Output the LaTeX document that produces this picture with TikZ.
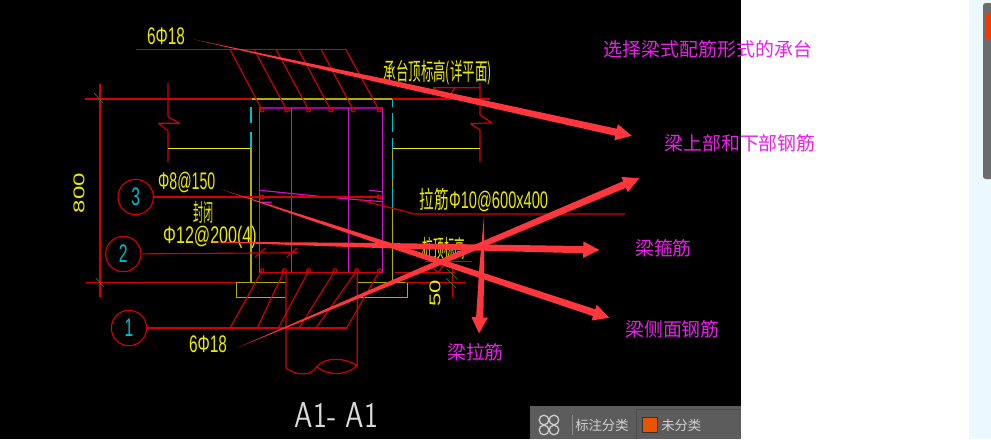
\documentclass[tikz,border=0pt]{standalone}
\usepackage{fontspec}
\setmainfont{Liberation Sans}
\newfontfamily\cjk{Noto Sans CJK SC}
\usetikzlibrary{calc}
\definecolor{hong}{RGB}{215,0,0}
\definecolor{huang}{RGB}{235,235,0}
\definecolor{ganlan}{RGB}{175,175,0}
\definecolor{zi}{RGB}{205,20,205}
\definecolor{anzi}{RGB}{160,0,170}
\definecolor{qing}{RGB}{0,190,200}
\definecolor{lv}{RGB}{0,170,40}
\definecolor{jiantouhong}{RGB}{255,55,60}
\definecolor{biaoqian}{RGB}{235,30,235}
\definecolor{gongju}{RGB}{92,92,92}
\definecolor{cheng}{RGB}{232,84,0}
\tikzset{
  gang/.style={hong,line width=.85pt},
  tong/.style={zi,line width=.85pt},
  xian/.style={ganlan,line width=.85pt},
  cad/.style={huang,inner sep=0pt,font=\fontsize{18}{18}\selectfont},
  biao/.style={biaoqian,inner sep=0pt,font=\cjk\fontsize{14.2}{14.2}\selectfont},
  hao/.style={draw=hong,circle,line width=.85pt,minimum size=26.5pt,inner sep=0pt,text=qing,font=\fontsize{19}{19}\selectfont},
  gongjuzi/.style={white!82!black,inner sep=0pt,font=\cjk\fontsize{10}{10}\selectfont}
}
% tail, tip
\newcommand{\jiantou}[2]{
  \coordinate (jb) at ($(#2)!12pt!(#1)$);
  \coordinate (jm) at ($(#1)!.45!(#2)$);
  \fill[jiantouhong] (#1) -- ($(jm)!1.9pt!90:(#2)$) -- ($(jb)!2.7pt!90:(#2)$) -- ($(jb)!6.2pt!90:(#2)$) -- (#2)
    -- ($(jb)!6.2pt!-90:(#2)$) -- ($(jb)!2.7pt!-90:(#2)$) -- ($(jm)!1.9pt!-90:(#2)$) -- cycle;
}
\begin{document}
\begin{tikzpicture}[x=.75pt,y=-.75pt,line join=round]
  \useasboundingbox (0,0) rectangle (991,439);
  \fill[white] (0,0) rectangle (991,439);
  \fill[black] (0,0) rectangle (741,439);
  \fill[blue!35!cyan!8!white] (969,0) rectangle (991,439);
  \fill[gray!85!black,rounded corners=2pt] (983,3) rectangle (995,179);
  \fill[cheng!70!red] (986,13) rectangle (991,39);
  % toolbar
  \fill[gongju] (530,406) rectangle (741,439);
  \draw[black!70,line width=.75pt] (636,439) -- (636,409) -- (741,409);
  \draw[white!30!gongju,line width=.75pt] (572,415) -- (572,435);
  \foreach \u/\v in {544/420,554/420,544/430,554/430}
    \draw[white!80!black,line width=1pt] (\u,\v) circle (3.6pt);
  \node[gongjuzi,anchor=west] (fenlei) at (575,425) {标注分类};
  \node[fill=cheng,draw=black!80,line width=.5pt,minimum size=11pt,inner sep=0pt] (chengkuai) at (649.5,425) {};
  \node[gongjuzi,anchor=west] (weifenlei) at (661,425) {未分类};
  % dimension lines
  \draw[gang] (85,99) -- (252,99) (392,99) -- (490,99);
  \draw[gang] (86,282.7) -- (237,282.7);
  \draw[gang] (100,84) -- (100,297);
  \draw[lv] (94,93) -- (103,103) (95.7,278) -- (104,287);
  % break lines
  \draw[gang] (168,83) -- (168,116.7) -- (179.5,123.3) -- (158.5,123.3) -- (168,130.7) -- (168,162);
  \draw[gang] (480,83) -- (480,115) -- (491.7,122.7) -- (470.7,123.7) -- (480,130) -- (480,162);
  % concrete outline
  \draw[xian] (252,99) -- (392,99);
  \draw[huang,line width=.85pt] (168,148.3) -- (251,148.3) (480,148.3) -- (392.7,148.3);
  \draw[xian] (251,148.3) -- (251,282.7) -- (236.7,282.7) -- (236.7,297.3) -- (286,297.3);
  \draw[xian] (392.7,148.3) -- (392.7,282.7) -- (407.3,282.7) -- (407.3,297.3) -- (357.3,297.3);
  \draw[xian] (251,282.7) -- (286,282.7) (392.7,282.7) -- (357.3,282.7);
  \draw[qing,line width=.85pt] (251,106.7) -- (251,123) (251,131.7) -- (251,148);
  \draw[qing,line width=.85pt] (392.7,99) -- (392.7,107) (392.7,113) -- (392.7,131.7) (392.7,138) -- (392.7,150)
    (392.7,160) -- (392.7,180) (392.7,187) -- (392.7,207);
  \foreach \u/\v in {248/287,258/293,262/290,270/286,278/294,244/292,241/288,253/289,266/294,275/290,385/294,398/286,403/292,378/287,364/291,372/294,390/290,400/295}
    \fill[hong] (\u,\v) circle (.55pt);
  % beam section
  \draw[tong] (259.3,108) rectangle (382.7,272.7);
  \draw[anzi,line width=.85pt] (259.3,108) -- (382.7,108);
  \draw[tong] (291.7,108) -- (291.7,272.7) (348.3,108) -- (348.3,272.7);
  \draw[tong] (260,190.3) -- (323.3,196.7) (336.7,198) -- (382.7,201.7)
    (260,202.3) -- (271.7,202.3) (369,190.3) -- (382.7,191.7);
  \draw[gang] (263,272.7) -- (378,272.7);
  % pile
  \draw[gang] (286,272.7) -- (286,368) .. controls (296,376) and (312,376) .. (316.7,366.7)
    .. controls (326,356) and (346,358) .. (357.3,365.7) -- (357.3,272.7);
  \draw[gang] (316.7,366.7) .. controls (328,376) and (346,376) .. (357.3,365.7);
  % leaders with bars
  \coordinate (shang) at (136,49.3);
  \draw[gang] (shang) -- (345.7,49.3);
  \foreach \u/\v in {230/262,254/286.7,276/308.7,298.3/330.7,321/353.3,345.7/379}{
    \draw[gang] (\u,49.3) -- (\v,110);
    \draw[hong,line width=.8pt] (\v,110) circle (1.5pt);
  }
  \node[hao] (san) at (135.7,197) {\scalebox{.62}[1]{3}};
  \node[hao] (er) at (123.3,254) {\scalebox{.62}[1]{2}};
  \node[hao] (yi) at (129,328) {\scalebox{.62}[1]{1}};
  \coordinate (lajin) at (379,197);
  \coordinate (erduan) at (297.7,252.7);
  \coordinate (yiduan) at (346.7,328);
  \draw[gang] (san) -- (lajin);
  \draw[hong,line width=.8pt] (262,197) circle (1.5pt) (379,197) circle (1.5pt);
  \draw[gang] (er) -- (erduan);
  \draw[gang] (255,257.3) -- (265,248.3) (286.7,257.3) -- (296.7,248.3);
  \draw[gang] (yi) -- (yiduan);
  \foreach \u/\v in {230/262,257.3/284.3,278.3/308.7,299/335,316/356.7,346.7/379.7}{
    \draw[gang] (\u,328) -- (\v,270.7);
    \draw[hong,line width=.8pt] (\v,270.7) circle (1.5pt);
  }
  % tie leader
  \draw[gang] (358,199.5) -- (415,214) -- (625,214);
  % elevation marks
  \draw[gang] (433.3,87.7) -- (480,87.7) (433.3,87.7) -- (447,99) -- (455,87.7);
  \draw[gang] (425,261.7) -- (471.7,261.7) (395,272.7) -- (455,272.7) (405,282.7) -- (466,282.7);
  \draw[gang] (431.7,266.7) -- (438,272.7) -- (444,265);
  \draw[gang] (452.3,268) -- (452.3,297);
  \draw[lv] (447.3,269.3) -- (457.3,279) (446,278.3) -- (456,287.7);
  % yellow texts
  \node[cad,xscale=.64] (liuA) at (166,36) {6Φ18};
  \node[cad,xscale=.59] (guzhi) at (186.7,182.3) {Φ8@150};
  \node[cad,xscale=.42] (fengbi) at (203.3,212) {\cjk 封闭};
  \node[cad,xscale=.67] (guB) at (210,237.7) {Φ12@200(4)};
  \node[cad,xscale=.64] (liuB) at (208,344.3) {6Φ18};
  \node[cad,xscale=.52] (chengtai) at (437.7,72.3) {\cjk 承台顶标高(详平面)};
  \node[cad,xscale=.61] (lajinzi) at (484,200) {\cjk 拉筋\rmfamily Φ10@600x400};
  \node[cad,xscale=.44] (zhuang) at (444,248) {\cjk 桩顶标高};
  \node[cad,xscale=.65,rotate=90] (babai) at (79,193) {800};
  \node[cad,xscale=.65,rotate=90] (wushi) at (435,293) {50};
  \node[white!85!black,inner sep=0pt,xscale=.82,font=\sffamily\fontsize{27}{27}\selectfont] (jiemian) at (336.5,415) {A1- A1};
  % red arrows
  \coordinate (wa) at (193.3,39.3); \coordinate (wb) at (631.7,135.7);
  \coordinate (xa) at (236.7,348); \coordinate (xb) at (639.3,178.3);
  \coordinate (ya) at (197.3,241.7); \coordinate (yb) at (599.3,250);
  \coordinate (za) at (221,189.3); \coordinate (zb) at (609.3,317.7);
  \coordinate (ta) at (484,216); \coordinate (tb) at (479,333.3);
  \jiantou{wa}{wb}
  \jiantou{xa}{xb}
  \jiantou{ya}{yb}
  \jiantou{za}{zb}
  \jiantou{ta}{tb}
  % labels
  \node[biao] (chengtaibiao) at (708,49) {选择梁式配筋形式的承台};
  \node[biao] (shangxia) at (740,143) {梁上部和下部钢筋};
  \node[biao] (gujin) at (663.5,248) {梁箍筋};
  \node[biao] (cemian) at (672.5,329) {梁侧面钢筋};
  \node[biao] (lajinbiao) at (475.5,352) {梁拉筋};
\end{tikzpicture}
\end{document}
